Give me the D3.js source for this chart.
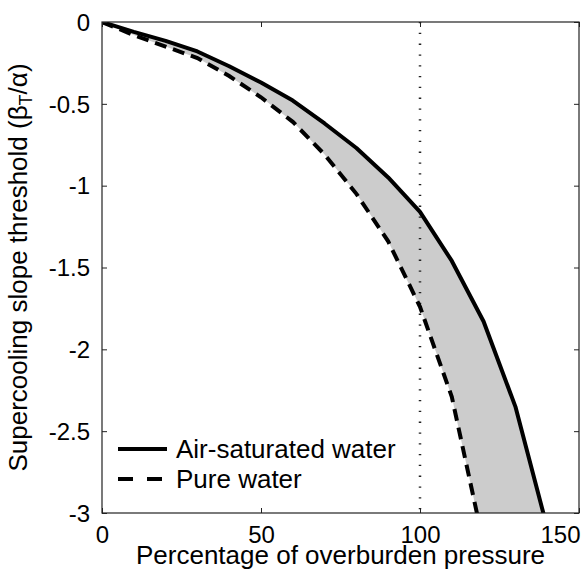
<!DOCTYPE html>
<html>
<head>
<meta charset="utf-8">
<script src="https://cdn.jsdelivr.net/npm/d3@7"></script>
<style>
  html, body { margin: 0; padding: 0; background: #fff; }
  svg { display: block; font-family: "Liberation Sans", Arial, sans-serif; }
</style>
</head>
<body>
<svg id="chart" width="586" height="569"></svg>
<script>
// ---- data ----
const xAir  = [0, 10, 20, 30, 40, 50, 60, 70, 80, 90, 100, 110, 120, 130, 140];
const yAir  = [0, -0.06, -0.115, -0.18, -0.27, -0.37, -0.48, -0.62, -0.77, -0.95, -1.16, -1.46, -1.83, -2.35, -3.09];
const xPure = [0, 10, 20, 30, 40, 50, 60, 70, 80, 90, 100, 110, 120];
const yPure = [0, -0.08, -0.15, -0.22, -0.33, -0.46, -0.61, -0.81, -1.05, -1.34, -1.74, -2.29, -3.19];
const xTicks = [0, 50, 100, 150];
const yTicks = [0, -0.5, -1, -1.5, -2, -2.5, -3];
const refLineX = 100;
const legendLabels = ["Air-saturated water", "Pure water"];
const xLabel = "Percentage of overburden pressure";
const yLabelMain = "Supercooling slope threshold (β";
const yLabelSub = "T";
const yLabelEnd = "/α)";

// ---- layout ----
const L = 102, R = 579, T = 22, B = 513;
const svg = d3.select("#chart");
const x = d3.scaleLinear().domain([0, 150]).range([L, R]);
const y = d3.scaleLinear().domain([-3, 0]).range([B, T]);

const fmt = d => String(d).replace("\u2212", "-");

svg.append("defs").append("clipPath").attr("id", "clip")
  .append("rect").attr("x", L).attr("y", T).attr("width", R - L).attr("height", B - T);

const airPts = xAir.map((v, i) => [v, yAir[i]]);
const purePts = xPure.map((v, i) => [v, yPure[i]]);
const line = d3.line().x(d => x(d[0])).y(d => y(d[1]));

const g = svg.append("g").attr("clip-path", "url(#clip)");
// gray band between curves
g.append("path")
  .attr("d", line(airPts.concat(purePts.slice().reverse())) + "Z")
  .attr("fill", "#cccccc").attr("stroke", "none");

// dotted vertical line
g.append("line")
  .attr("x1", x(refLineX)).attr("x2", x(refLineX))
  .attr("y1", T).attr("y2", B)
  .attr("stroke", "#222").attr("stroke-width", 2.5)
  .attr("stroke-dasharray", "1.3,9.5");

g.append("path").attr("d", line(purePts))
  .attr("fill", "none").attr("stroke", "#000").attr("stroke-width", 4)
  .attr("stroke-dasharray", "12,7");
g.append("path").attr("d", line(airPts))
  .attr("fill", "none").attr("stroke", "#000").attr("stroke-width", 4)
  .attr("stroke-linejoin", "round");

// axes
const tickFont = g2 => {
  g2.select(".domain").remove();
  g2.selectAll(".tick line").attr("stroke", "#222").attr("stroke-width", 1);
  g2.selectAll("text").attr("font-size", 24).attr("fill", "#000")
    .attr("font-family", "'Liberation Sans', Arial, sans-serif");
};
const xAxisG = svg.append("g").attr("transform", `translate(0,${B})`)
  .call(d3.axisBottom(x).tickValues(xTicks).tickFormat(fmt).tickSize(-5).tickPadding(13))
  .call(tickFont);
xAxisG.selectAll("text").attr("dy", "0.71em");
// last label sits inside the right edge, as in the reference
xAxisG.selectAll(".tick").filter(d => d === xTicks[xTicks.length - 1])
  .select("text").attr("text-anchor", "end").attr("x", 1);

svg.append("g").attr("transform", `translate(0,${T})`)
  .call(d3.axisTop(x).tickValues(xTicks).tickFormat("").tickSize(-5))
  .call(tickFont);
const yAxisG = svg.append("g").attr("transform", `translate(${L},0)`)
  .call(d3.axisLeft(y).tickValues(yTicks).tickFormat(fmt).tickSize(-5).tickPadding(12))
  .call(tickFont);
yAxisG.selectAll("text").attr("dy", "0.34em");
svg.append("g").attr("transform", `translate(${R},0)`)
  .call(d3.axisRight(y).tickValues(yTicks).tickFormat("").tickSize(-5))
  .call(tickFont);

// box
svg.append("rect").attr("x", L).attr("y", T).attr("width", R - L).attr("height", B - T)
  .attr("fill", "none").attr("stroke", "#222").attr("stroke-width", 1.2);

// axis labels
svg.append("text").attr("x", (L + R) / 2).attr("y", 563.5)
  .attr("text-anchor", "middle").attr("font-size", 26).text(xLabel);

const yl = svg.append("text")
  .attr("transform", `translate(26.5,${(T + B) / 2}) rotate(-90)`)
  .attr("text-anchor", "middle").attr("font-size", 26);
yl.append("tspan").text(yLabelMain);
yl.append("tspan").attr("font-size", 18).attr("dy", 5).text(yLabelSub);
yl.append("tspan").attr("dy", -5).text(yLabelEnd);

// legend
const legY = [449, 479];
const legDash = [null, "15,14"];
legendLabels.forEach((lab, i) => {
  svg.append("line").attr("x1", 118).attr("x2", 167).attr("y1", legY[i]).attr("y2", legY[i])
    .attr("stroke", "#000").attr("stroke-width", 4)
    .attr("stroke-dasharray", legDash[i]);
  svg.append("text").attr("x", 176).attr("y", legY[i]).attr("dy", "0.36em")
    .attr("font-size", 26).text(lab);
});
</script>
</body>
</html>
